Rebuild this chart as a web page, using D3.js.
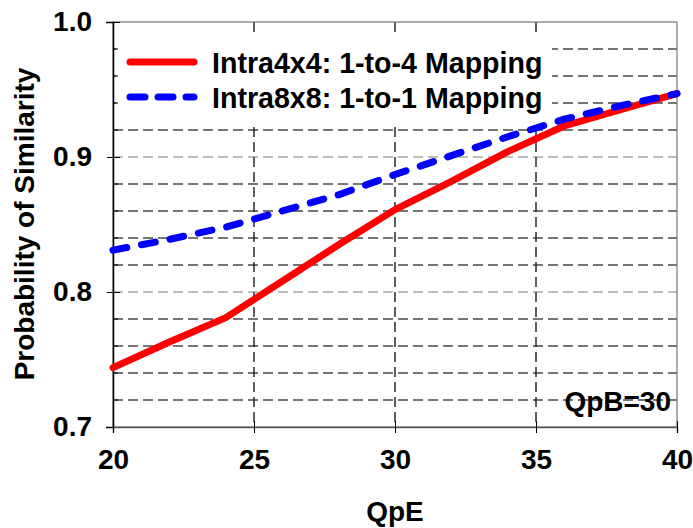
<!DOCTYPE html>
<html><head><meta charset="utf-8">
<script src="https://cdn.jsdelivr.net/npm/d3@7"></script>
<style>body{margin:0;background:#fff}svg{display:block}text{font-family:"Liberation Sans",Arial,sans-serif;font-weight:bold}</style>
</head><body>
<svg id="c" width="693" height="528"></svg>
<script>
const qpe = [20, 22, 24, 26, 28, 30, 32, 34, 36, 38, 40];
const intra4x4 = [0.744, 0.763, 0.781, 0.808, 0.835, 0.861, 0.882, 0.904, 0.923, 0.935, 0.947];
const intra8x8 = [0.831, 0.839, 0.848, 0.860, 0.872, 0.887, 0.901, 0.915, 0.928, 0.938, 0.947];
const xTicks = [20, 25, 30, 35, 40];
const yTicks = [0.7, 0.8, 0.9, 1.0];
const yGrid = [0.72, 0.74, 0.76, 0.78, 0.8, 0.82, 0.84, 0.86, 0.88, 0.9, 0.92, 0.94, 0.96, 0.98];
const seriesNames = ["Intra4x4: 1-to-4 Mapping", "Intra8x8: 1-to-1 Mapping"];
const xLabel = "QpE", yLabel = "Probability of Similarity", note = "QpB=30";

const svg = d3.select("#c");
const L = 113, R = 677, T = 22, B = 427;
const x = d3.scaleLinear().domain([20, 40]).range([L, R]);
const y = d3.scaleLinear().domain([0.7, 1.0]).range([B, T]);

// horizontal grid
svg.append("g").selectAll("line").data(yGrid).join("line")
  .attr("x1", L).attr("x2", R).attr("y1", d => y(d)).attr("y2", d => y(d))
  .attr("stroke", d => (Math.abs(d - 0.8) < 1e-9 || Math.abs(d - 0.9) < 1e-9) ? "#a8a8a8" : "#4a4a4a")
  .attr("stroke-width", 1.4).attr("stroke-dasharray", "10,5");
// vertical grid
svg.append("g").selectAll("line").data(xTicks.slice(1, -1)).join("line")
  .attr("x1", d => x(d)).attr("x2", d => x(d)).attr("y1", T).attr("y2", B)
  .attr("stroke", "#1a1a1a").attr("stroke-width", 1.4).attr("stroke-dasharray", "10,5");

// legend background
svg.append("rect").attr("x", 116).attr("y", 34).attr("width", 436).attr("height", 88).attr("fill", "#fff");

// frame
svg.append("rect").attr("x", L).attr("y", T).attr("width", R - L).attr("height", B - T)
  .attr("fill", "none").attr("stroke", "#777").attr("stroke-width", 1.2);

// axes
const yAxis = svg.append("g").attr("transform", `translate(${L},0)`)
  .call(d3.axisLeft(y).tickValues(yTicks).tickFormat(d3.format(".1f")).tickSize(7).tickPadding(14));
yAxis.select(".domain").attr("stroke", "#000").attr("stroke-width", 1.5);
yAxis.selectAll(".tick line").attr("stroke", "#000").attr("x2", 7).attr("x1", -6);
yAxis.selectAll("text").attr("font-size", 28).attr("fill", "#000");
// minor y ticks
svg.append("g").selectAll("line").data(yGrid.filter(d => Math.abs(d * 10 - Math.round(d * 10)) > 1e-6)).join("line")
  .attr("x1", L).attr("x2", L + 5).attr("y1", d => y(d)).attr("y2", d => y(d)).attr("stroke", "#000");

const xAxis = svg.append("g").attr("transform", `translate(0,${B})`)
  .call(d3.axisBottom(x).tickValues(xTicks).tickSize(6).tickPadding(16));
xAxis.select(".domain").attr("stroke", "#555").attr("stroke-width", 1.5);
xAxis.selectAll(".tick line").attr("stroke", "#000").attr("y1", -6);
xAxis.selectAll("text").attr("font-size", 28).attr("fill", "#000");

// lines
const line = d3.line().x((d, i) => x(qpe[i])).y(d => y(d));
svg.append("path").datum(intra4x4).attr("d", line).attr("fill", "none")
  .attr("stroke", "#ff0000").attr("stroke-width", 7).attr("stroke-linejoin", "round").attr("stroke-linecap", "round");
svg.append("path").datum(intra8x8).attr("d", line).attr("fill", "none")
  .attr("stroke", "#0000ff").attr("stroke-width", 7).attr("stroke-dasharray", "14,15").attr("stroke-linecap", "round");

// legend
const lg = svg.append("g");
lg.append("line").attr("x1", 130).attr("x2", 194).attr("y1", 62).attr("y2", 62)
  .attr("stroke", "#ff0000").attr("stroke-width", 7).attr("stroke-linecap", "round");
lg.append("line").attr("x1", 130).attr("x2", 194).attr("y1", 97).attr("y2", 97)
  .attr("stroke", "#0000ff").attr("stroke-width", 7).attr("stroke-dasharray", "15,13").attr("stroke-linecap", "round");
lg.selectAll("text").data(seriesNames).join("text")
  .attr("x", 212).attr("y", (d, i) => 73 + i * 35).attr("font-size", 28.6).text(d => d);

// labels
svg.append("text").attr("x", (L + R) / 2).attr("y", 521).attr("text-anchor", "middle").attr("font-size", 28).text(xLabel);
svg.append("text").attr("transform", "translate(34,224) rotate(-90)").attr("text-anchor", "middle").attr("font-size", 28).text(yLabel);
svg.append("text").attr("x", 671).attr("y", 411).attr("text-anchor", "end").attr("font-size", 28).text(note);
</script>
</body></html>
